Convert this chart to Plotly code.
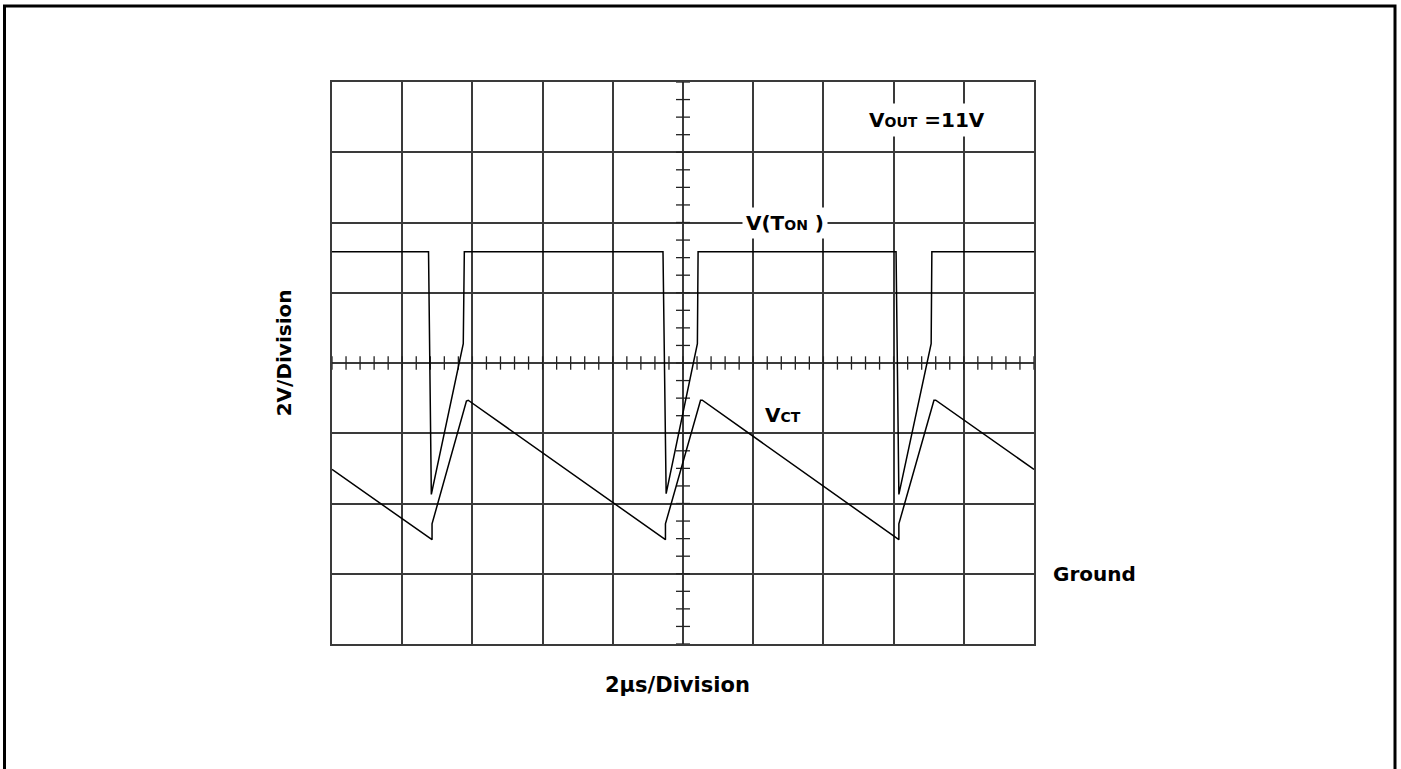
import numpy as np
import plotly.graph_objects as go

# ---- data (time in µs, voltage in V; 2 µs/div, 2 V/div, ground = 0 V) ----
vct_t = [0.0, 2.85, 2.85, 3.83, 3.88, 9.50, 9.50, 10.50, 10.55, 16.15, 16.15, 17.15, 17.20, 20.0]
vct_v = [2.97, 0.97, 1.42, 4.92, 4.94, 0.97, 1.42, 4.94, 4.94, 0.97, 1.42, 4.94, 4.94, 2.97]

ton_t = [0.0, 2.75, 2.83, 3.74, 3.77, 9.43, 9.52, 10.41, 10.43, 16.07, 16.15, 17.07, 17.09, 20.0]
ton_v = [9.17, 9.17, 2.26, 6.55, 9.17, 9.17, 2.28, 6.55, 9.17, 9.17, 2.26, 6.55, 9.17, 9.17]

x_range = [0, 20]
y_range = [-2, 14]
x_div = 2.0
y_div = 2.0
x_center = 10.0
y_center = 6.0

FONT = "DejaVu Sans, Liberation Sans, Arial, sans-serif"
fig = go.Figure()

# minor ticks on the centre axes
tx, ty = [], []
for t in np.arange(x_range[0], x_range[1] + 1e-9, x_div / 5):
    tx += [t, t, None]
    ty += [y_center - 0.19, y_center + 0.19, None]
for v in np.arange(y_range[0], y_range[1] + 1e-9, y_div / 4):
    tx += [x_center - 0.2, x_center + 0.2, None]
    ty += [v, v, None]
fig.add_trace(go.Scatter(x=tx, y=ty, mode="lines", line=dict(color="#222", width=1.3),
                         hoverinfo="skip", showlegend=False))

fig.add_trace(go.Scatter(x=ton_t, y=ton_v, mode="lines", name="V(TON)",
                         line=dict(color="black", width=1.5), showlegend=False))
fig.add_trace(go.Scatter(x=vct_t, y=vct_v, mode="lines", name="VCT",
                         line=dict(color="black", width=1.5), showlegend=False))

axis_common = dict(showgrid=True, gridcolor="#3a3a3a", gridwidth=1.5, showline=True,
                   linecolor="#3a3a3a", linewidth=1.5, mirror=True, zeroline=False,
                   showticklabels=False, ticks="", fixedrange=True)
fig.update_xaxes(range=x_range, dtick=x_div, tick0=0, **axis_common)
fig.update_yaxes(range=y_range, dtick=y_div, tick0=0, **axis_common)

big = dict(family=FONT, size=20, color="black", weight="bold")
small = "font-size:14px"

fig.add_annotation(x=16.94, y=12.91, xref="x", yref="y", xanchor="center", yanchor="middle",
                   text=f"V<span style='{small}'>OUT</span> =11V", showarrow=False,
                   font=big, bgcolor="white", borderpad=4)
fig.add_annotation(x=12.9, y=10.0, xref="x", yref="y", xanchor="center", yanchor="middle",
                   text=f"V(T<span style='{small}'>ON</span> )", showarrow=False,
                   font=big, bgcolor="white", borderpad=3)
fig.add_annotation(x=12.84, y=4.51, xref="x", yref="y", xanchor="center", yanchor="middle",
                   text=f"V<span style='{small}'>CT</span>", showarrow=False, font=big)
fig.add_annotation(x=1.0238, y=0.0, xref="paper", yref="y", xanchor="left", yanchor="middle",
                   text="Ground", showarrow=False, font=big)
fig.add_annotation(x=-0.0684, y=0.519, xref="paper", yref="paper",
                   xanchor="center", yanchor="middle",
                   text="2V/Division", textangle=-90, showarrow=False, font=big)
fig.add_annotation(x=0.4925, y=-0.073, xref="paper", yref="paper",
                   xanchor="center", yanchor="middle",
                   text="2µs/Division", showarrow=False,
                   font=dict(family=FONT, size=21, color="black", weight="bold"))

L, T, W, H = 332, 82, 702, 562
# outer frame (page pixel positions converted to paper coordinates)
fig.add_shape(type="rect", xref="paper", yref="paper",
              x0=(4.5 - L) / W, x1=(1395 - L) / W,
              y0=(T + H - 800) / H, y1=(T + H - 6) / H,
              line=dict(color="black", width=3), layer="above")

fig.update_layout(width=1401, height=769, margin=dict(l=L, r=1401 - L - W, t=T, b=769 - T - H),
                  plot_bgcolor="white", paper_bgcolor="white", showlegend=False)

fig.write_html("out.html", config={"displayModeBar": False},
               post_script="document.body.style.margin='0px';")
